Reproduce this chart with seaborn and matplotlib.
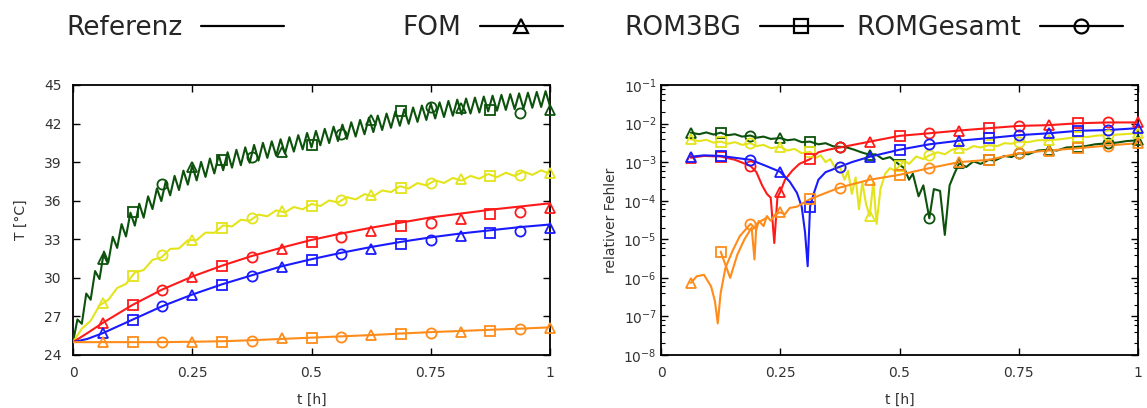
import numpy as np
import pandas as pd
import matplotlib
matplotlib.use("Agg")
import matplotlib.pyplot as plt
from matplotlib.lines import Line2D
from matplotlib.ticker import LogLocator, NullLocator
import seaborn as sns

# ------------------------------------------------------------------ data
legend_labels = ["Referenz", "FOM", "ROM3BG", "ROMGesamt"]
methods = ["FOM", "ROM3BG", "ROMGesamt"]
method_markers = {"FOM": "^", "ROM3BG": "s", "ROMGesamt": "o"}
series_names = ["gruen", "gelb", "rot", "blau", "orange"]
series_colors = {"gruen": "#0c520c", "gelb": "#e4e41c", "rot": "#ff1a1a",
                 "blau": "#1a1aff", "orange": "#ff8c1a"}

x_ticks = [0, 0.25, 0.5, 0.75, 1]
x_ticklabels = ["0", "0.25", "0.5", "0.75", "1"]
T_ticks = [24, 27, 30, 33, 36, 39, 42, 45]

# marker sample times (every 1/16 h), methods cycle FOM, ROM3BG, ROMGesamt
marker_t = [0.0625, 0.125, 0.1875, 0.25, 0.3125, 0.375, 0.4375, 0.5,
            0.5625, 0.625, 0.6875, 0.75, 0.8125, 0.875, 0.9375, 1.0]

# reference temperatures, smooth curves
ref_t = [0, 0.03, 0.0625, 0.125, 0.1875, 0.25, 0.3125, 0.375, 0.4375, 0.5,
         0.5625, 0.625, 0.6875, 0.75, 0.8125, 0.875, 0.9375, 1.0]
rot_ref = [25.0, 25.7, 26.5, 27.9, 29.1, 30.1, 30.95, 31.7, 32.35, 32.95,
           33.45, 33.9, 34.3, 34.7, 35.0, 35.3, 35.55, 35.8]
blau_ref = [25.0, 25.25, 25.7, 26.75, 27.8, 28.7, 29.5, 30.2, 30.9, 31.45,
            31.95, 32.4, 32.8, 33.15, 33.45, 33.7, 33.95, 34.15]
orange_ref = [25.0, 25.0, 25.0, 25.0, 25.0, 25.03, 25.07, 25.15, 25.25, 25.35,
              25.45, 25.55, 25.67, 25.78, 25.87, 25.96, 26.05, 26.15]

# oscillating reference temperatures (peaks / troughs)
gruen_ref = [25.0, 26.76, 26.43, 28.78, 28.30, 30.53, 29.91, 32.04, 31.22, 33.19, 32.33,
             34.18, 33.22, 35.07, 34.06, 35.77, 34.68, 36.34, 35.35, 36.96, 35.97, 37.51,
             36.42, 37.93, 36.83, 38.34, 37.25, 38.75, 37.58, 39.02, 37.85, 39.28, 38.12,
             39.55, 38.37, 39.77, 38.57, 39.96, 38.76, 40.15, 38.95, 40.34, 39.12, 40.50,
             39.33, 40.62, 39.50, 40.78, 39.66, 40.94, 39.82, 41.10, 39.99, 41.27, 40.15,
             41.43, 40.31, 41.59, 40.48, 41.76, 40.64, 41.92, 40.81, 42.10, 40.99, 42.28,
             41.17, 42.46, 41.34, 42.62, 41.50, 42.78, 41.67, 42.95, 41.83, 43.11, 41.98,
             43.25, 42.13, 43.40, 42.28, 43.55, 42.40, 43.65, 42.51, 43.76, 42.61, 43.86,
             42.71, 43.95, 42.78, 44.02, 42.86, 44.10, 42.95, 44.17, 43.00, 44.23, 43.06,
             44.29, 43.12, 44.35, 43.17, 44.40, 43.23, 44.46, 43.29, 44.52, 43.35]
gelb_ref = [25.0, 26.05, 26.66, 27.86, 28.29, 29.21, 29.53, 30.42, 30.61, 31.40, 31.59,
            32.25, 32.29, 32.93, 32.94, 33.52, 33.50, 34.08, 34.00, 34.52, 34.44, 34.92,
            34.79, 35.25, 35.09, 35.51, 35.33, 35.75, 35.59, 36.02, 35.86, 36.28, 36.10,
            36.51, 36.34, 36.80, 36.67, 37.13, 36.95, 37.37, 37.19, 37.59, 37.38, 37.77,
            37.56, 37.93, 37.71, 38.08, 37.83, 38.18, 37.92, 38.27, 38.01, 38.36, 38.10]

# model temperatures at the marker times
gruen_T = [31.5, 35.1, 37.3, 38.6, 39.2, 39.4, 39.8, 40.3, 41.2, 42.3, 43.0, 43.3, 43.25, 43.05, 42.85, 43.05]
gelb_T = [28.05, 30.15, 31.8, 32.95, 33.9, 34.65, 35.2, 35.6, 36.06, 36.45, 37.0, 37.4, 37.7, 37.9, 38.0, 38.16]
rot_T = [26.5, 27.9, 29.05, 30.1, 30.95, 31.65, 32.25, 32.8, 33.2, 33.65, 34.06, 34.3, 34.55, 34.95, 35.15, 35.4]
blau_T = [25.7, 26.7, 27.8, 28.7, 29.45, 30.17, 30.87, 31.4, 31.83, 32.25, 32.6, 32.95, 33.28, 33.47, 33.67, 33.85]
orange_T = [25.0, 25.0, 25.0, 25.05, 25.05, 25.12, 25.3, 25.3, 25.43, 25.54, 25.64, 25.75, 25.82, 25.87, 26.03, 26.08]

# relative error curves
gruen_err_t = [0.0625, 0.08, 0.095, 0.11, 0.125, 0.14, 0.155, 0.17, 0.1875, 0.20, 0.215, 0.23, 0.25,
               0.265, 0.28, 0.295, 0.3125, 0.33, 0.345, 0.36, 0.375, 0.39, 0.405, 0.42, 0.4375,
               0.45, 0.465, 0.48, 0.5, 0.51, 0.52, 0.528, 0.54, 0.55, 0.5625, 0.572, 0.585,
               0.595, 0.605, 0.615, 0.625, 0.64, 0.655, 0.67, 0.6875, 0.70, 0.72, 0.735, 0.75,
               0.77, 0.79, 0.8125, 0.83, 0.85, 0.875, 0.89, 0.91, 0.9375, 0.955, 0.975, 1.0]
gruen_err = [5.8e-3, 5.3e-3, 5.9e-3, 5.2e-3, 5.8e-3, 5.0e-3, 5.3e-3, 4.6e-3, 4.9e-3, 4.3e-3,
             4.6e-3, 4.0e-3, 4.2e-3, 3.7e-3, 3.9e-3, 3.3e-3, 3.4e-3, 2.9e-3, 3.1e-3, 2.6e-3,
             2.5e-3, 2.4e-3, 2.1e-3, 1.8e-3, 1.55e-3, 1.6e-3, 1.2e-3, 1.35e-3, 8.5e-4, 7e-4,
             3.5e-4, 5e-4, 1.3e-4, 2.5e-4, 3.5e-5, 2.0e-4, 1.8e-4, 1.3e-5, 2.5e-4, 5e-4,
             9.3e-4, 7.5e-4, 1.05e-3, 9e-4, 1.15e-3, 1.1e-3, 1.45e-3, 1.35e-3, 1.7e-3, 1.6e-3,
             2.0e-3, 2.1e-3, 2.0e-3, 2.4e-3, 2.5e-3, 2.6e-3, 2.9e-3, 3.1e-3, 3.2e-3, 3.5e-3, 3.7e-3]
gelb_err_t = [0.0625, 0.08, 0.095, 0.11, 0.125, 0.14, 0.155, 0.17, 0.1875, 0.20, 0.215, 0.23,
              0.25, 0.265, 0.28, 0.295, 0.3125, 0.325, 0.335, 0.345, 0.355, 0.365, 0.375,
              0.385, 0.392, 0.40, 0.408, 0.415, 0.422, 0.43, 0.4375, 0.445, 0.452, 0.46, 0.47,
              0.48, 0.49, 0.5, 0.51, 0.52, 0.535, 0.55, 0.5625, 0.58, 0.595, 0.61, 0.625, 0.64,
              0.655, 0.67, 0.6875, 0.705, 0.72, 0.735, 0.75, 0.77, 0.79, 0.8125, 0.835, 0.855,
              0.875, 0.895, 0.915, 0.9375, 0.96, 0.98, 1.0]
gelb_err = [3.9e-3, 3.5e-3, 3.8e-3, 3.2e-3, 3.4e-3, 3.0e-3, 3.3e-3, 2.8e-3, 3.1e-3, 2.6e-3,
            2.8e-3, 2.3e-3, 2.5e-3, 2.0e-3, 2.2e-3, 1.7e-3, 1.85e-3, 1.3e-3, 1.5e-3, 1.0e-3,
            1.2e-3, 7e-4, 7.6e-4, 3.5e-4, 6e-4, 1.5e-4, 4e-4, 6e-5, 3e-4, 8e-5, 4e-5, 3e-4,
            2.5e-5, 2e-4, 5e-4, 7e-4, 6e-4, 8e-4, 1.1e-3, 9e-4, 1.4e-3, 1.2e-3, 1.5e-3, 1.8e-3,
            1.6e-3, 2.1e-3, 2.3e-3, 2.1e-3, 2.6e-3, 2.4e-3, 2.75e-3, 2.6e-3, 3.1e-3, 3.0e-3,
            3.4e-3, 3.3e-3, 3.7e-3, 3.7e-3, 3.9e-3, 4.2e-3, 4.6e-3, 4.5e-3, 4.9e-3, 5.0e-3,
            5.2e-3, 5.4e-3, 5.6e-3]
rot_err_t = [0.0625, 0.09, 0.125, 0.155, 0.1875, 0.20, 0.212, 0.222, 0.23, 0.2375, 0.244, 0.25,
             0.26, 0.275, 0.29, 0.3125, 0.33, 0.35, 0.375, 0.4375, 0.5, 0.5625, 0.625, 0.6875,
             0.75, 0.8125, 0.875, 0.9375, 1.0]
rot_err = [1.3e-3, 1.45e-3, 1.4e-3, 1.15e-3, 8e-4, 5.5e-4, 2.5e-4, 1.5e-4, 1.2e-4, 8e-6, 1.2e-4,
           1.7e-4, 3.5e-4, 6e-4, 9e-4, 1.2e-3, 1.8e-3, 2.1e-3, 2.4e-3, 3.4e-3, 4.8e-3, 5.6e-3,
           6.6e-3, 7.6e-3, 8.7e-3, 9.1e-3, 1.02e-2, 1.07e-2, 1.07e-2]
blau_err_t = [0.0625, 0.09, 0.125, 0.1875, 0.22, 0.25, 0.27, 0.285, 0.295, 0.302, 0.3075, 0.3125,
              0.32, 0.33, 0.345, 0.375, 0.40, 0.4375, 0.5, 0.5625, 0.625, 0.6875, 0.75, 0.8125,
              0.875, 0.9375, 1.0]
blau_err = [1.38e-3, 1.5e-3, 1.45e-3, 1.15e-3, 8e-4, 5.6e-4, 3.1e-4, 1.6e-4, 7e-5, 1.5e-5, 2e-6,
            7e-5, 1.5e-4, 3.5e-4, 5.5e-4, 7.6e-4, 1.0e-3, 1.38e-3, 2.1e-3, 2.9e-3, 3.6e-3, 4.2e-3,
            5.0e-3, 5.6e-3, 6.5e-3, 6.8e-3, 7.6e-3]
orange_err_t = [0.0625, 0.075, 0.09, 0.105, 0.113, 0.119, 0.125, 0.135, 0.15, 0.165, 0.1875, 0.20,
                0.205, 0.215, 0.222, 0.23, 0.24, 0.25, 0.26, 0.27, 0.285, 0.30, 0.3125, 0.34,
                0.375, 0.4375, 0.5, 0.5625, 0.625, 0.6875, 0.75, 0.8125, 0.875, 0.9375, 1.0]
orange_err = [7.4e-7, 1.1e-6, 1.2e-6, 6e-7, 2.5e-7, 6.6e-8, 4e-7, 1.8e-6, 5e-6, 1.2e-5, 2.5e-5,
              1.8e-5, 3e-5, 2.2e-5, 4e-5, 3e-5, 4.5e-5, 5e-5, 4.5e-5, 6.5e-5, 7e-5, 9e-5, 1.1e-4,
              1.5e-4, 2.2e-4, 3.5e-4, 4.7e-4, 7e-4, 1.0e-3, 1.15e-3, 1.7e-3, 2.0e-3, 2.3e-3,
              2.7e-3, 3.1e-3]
orange_rom_err_t = [0.125, 0.135, 0.145, 0.16, 0.175, 0.19, 0.196, 0.2, 0.21, 0.22]
orange_rom_err = [4.8e-6, 2.2e-6, 1.0e-6, 4e-6, 1e-5, 2e-5, 3e-6, 2.5e-5, 3e-5, 3.5e-5]

# relative errors at the marker times
gruen_err_mk = [5.8e-3, 5.8e-3, 4.9e-3, 4.2e-3, 3.4e-3, 2.5e-3, 1.55e-3, 8.5e-4, 3.5e-5, 9.3e-4,
                1.15e-3, 1.7e-3, 2.1e-3, 2.5e-3, 3.1e-3, 3.7e-3]
gelb_err_mk = [3.9e-3, 3.4e-3, 3.1e-3, 2.5e-3, 1.85e-3, 7.6e-4, 4e-5, 8e-4, 1.5e-3, 2.3e-3,
               2.75e-3, 3.4e-3, 3.7e-3, 4.6e-3, 5.0e-3, 5.6e-3]
rot_err_mk = [1.3e-3, 1.4e-3, 8e-4, 1.7e-4, 1.2e-3, 2.4e-3, 3.4e-3, 4.8e-3, 5.6e-3, 6.6e-3,
              7.6e-3, 8.7e-3, 9.1e-3, 1.02e-2, 1.07e-2, 1.07e-2]
blau_err_mk = [1.38e-3, 1.45e-3, 1.15e-3, 5.6e-4, 7e-5, 7.6e-4, 1.38e-3, 2.1e-3, 2.9e-3, 3.6e-3,
               4.2e-3, 5.0e-3, 5.6e-3, 6.5e-3, 6.8e-3, 7.6e-3]
orange_err_mk = [7.4e-7, 4.8e-6, 2.5e-5, 5e-5, 1.1e-4, 2.2e-4, 3.5e-4, 4.7e-4, 7e-4, 1.0e-3,
                 1.15e-3, 1.7e-3, 2.0e-3, 2.3e-3, 2.7e-3, 3.1e-3]

# ------------------------------------------------------------------ tables
ref_lines = {
    "gruen": (np.linspace(0, 1, len(gruen_ref)), gruen_ref),
    "gelb": (np.linspace(0, 1, len(gelb_ref)), gelb_ref),
    "rot": (ref_t, rot_ref),
    "blau": (ref_t, blau_ref),
    "orange": (ref_t, orange_ref),
}
model_T = {"gruen": gruen_T, "gelb": gelb_T, "rot": rot_T, "blau": blau_T, "orange": orange_T}
err_lines = {
    "gruen": [(gruen_err_t, gruen_err)],
    "gelb": [(gelb_err_t, gelb_err)],
    "rot": [(rot_err_t, rot_err)],
    "blau": [(blau_err_t, blau_err)],
    "orange": [(orange_err_t, orange_err), (orange_rom_err_t, orange_rom_err)],
}
err_mk = {"gruen": gruen_err_mk, "gelb": gelb_err_mk, "rot": rot_err_mk,
          "blau": blau_err_mk, "orange": orange_err_mk}

rows = []
for name in series_names:
    for i, t in enumerate(marker_t):
        rows.append({"serie": name, "methode": methods[i % 3], "t": t,
                     "T": model_T[name][i], "fehler": err_mk[name][i]})
markers_df = pd.DataFrame(rows)

# ------------------------------------------------------------------ style
sns.set_theme(style="ticks")
plt.rcParams["font.family"] = ["DejaVu Sans"]
plt.rcParams["axes.linewidth"] = 1.3
plt.rcParams["axes.edgecolor"] = "black"

W, H = 1147, 408
fig = plt.figure(figsize=(W / 100, H / 100), dpi=100)
ax1 = fig.add_axes([73 / W, 1 - 355 / H, 477 / W, 270 / H])
ax2 = fig.add_axes([661 / W, 1 - 355 / H, 477 / W, 270 / H])

LW = 1.5
MS = 7.3
MEW = 1.3


def draw_markers(ax, ycol):
    for name in series_names:
        c = series_colors[name]
        for m in methods:
            sub = markers_df[(markers_df.serie == name) & (markers_df.methode == m)]
            sns.lineplot(data=sub, x="t", y=ycol, ax=ax, estimator=None, sort=False,
                         color=c, linestyle="none", marker=method_markers[m], markersize=MS,
                         markerfacecolor="none", markeredgecolor=c, markeredgewidth=MEW,
                         clip_on=False, zorder=4)


# left: temperatures
for name in series_names:
    tx, ty = ref_lines[name]
    sns.lineplot(x=list(tx), y=list(ty), ax=ax1, estimator=None, sort=False,
                 color=series_colors[name], linewidth=LW, zorder=3)
draw_markers(ax1, "T")

# right: relative errors
for name in series_names:
    for tx, ty in err_lines[name]:
        sns.lineplot(x=tx, y=ty, ax=ax2, estimator=None, sort=False,
                     color=series_colors[name], linewidth=LW, zorder=3)
draw_markers(ax2, "fehler")

tick_color = "#333333"
for ax in (ax1, ax2):
    ax.set_xlim(0, 1)
    ax.set_xticks(x_ticks)
    ax.set_xticklabels(x_ticklabels)
    ax.xaxis.set_minor_locator(NullLocator())
    ax.tick_params(which="major", direction="in", top=True, right=True, length=5,
                   width=1.0, labelsize=10, labelcolor=tick_color, color="black")
    ax.tick_params(axis="x", pad=8)
    ax.set_xlabel("t [h]", fontsize=10, color=tick_color, labelpad=9)
    for sp in ax.spines.values():
        sp.set_visible(True)
        sp.set_color("black")
        sp.set_linewidth(1.3)

ax1.set_ylim(24, 45)
ax1.set_yticks(T_ticks)
ax1.tick_params(axis="y", pad=8)
ax1.set_ylabel("T [°C]", fontsize=10, color=tick_color, labelpad=12)

ax2.set_yscale("log")
ax2.set_ylim(1e-8, 1e-1)
ax2.yaxis.set_major_locator(LogLocator(base=10, numticks=20))
ax2.yaxis.set_minor_locator(LogLocator(base=10, subs=(2, 4, 6, 8), numticks=20))
ax2.tick_params(axis="y", which="minor", direction="in", left=True, right=True,
                length=3, width=0.8, color="black")
ax2.tick_params(axis="y", pad=3)
ax2.set_ylabel("relativer Fehler", fontsize=10, color=tick_color, labelpad=4)

# legend across the top
handles = [Line2D([], [], color="black", lw=1.6)]
for m in methods:
    handles.append(Line2D([], [], color="black", lw=1.6, marker=method_markers[m],
                          markersize=10, markerfacecolor="none", markeredgewidth=1.6))
legend_right_px = [284, 563, 843, 1123]
for h, lab, xr in zip(handles, legend_labels, legend_right_px):
    fig.legend([h], [lab], loc="center right", bbox_to_anchor=(xr / W, 1 - 28 / H),
               frameon=False, markerfirst=False, fontsize=19, handlelength=3.15,
               handletextpad=0.7, borderpad=0, borderaxespad=0, numpoints=1)

fig.savefig("out.png", dpi=100)
